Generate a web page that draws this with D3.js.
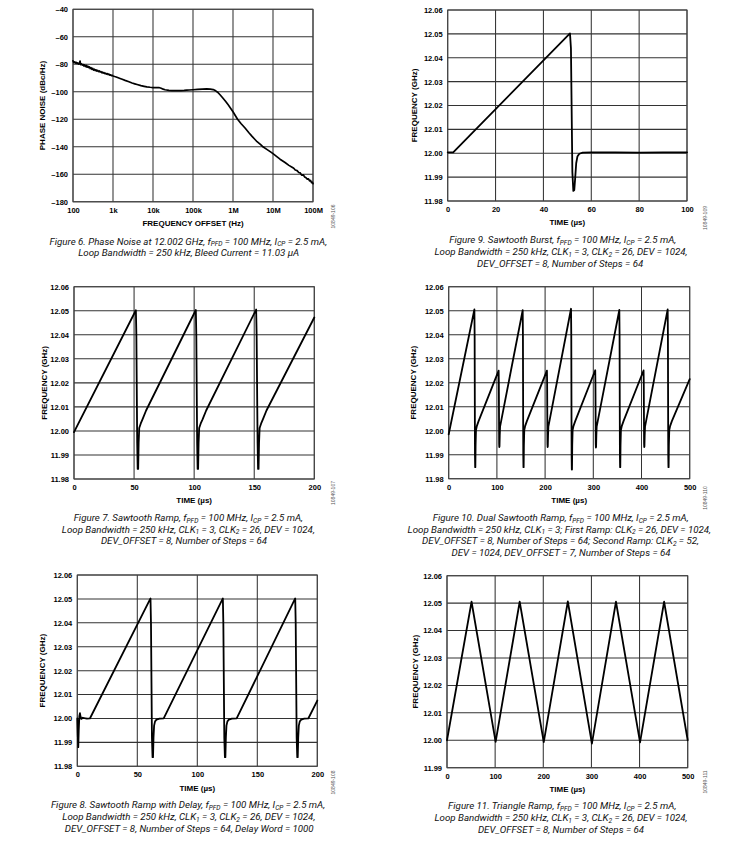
<!DOCTYPE html>
<html><head><meta charset="utf-8">
<script src="https://cdn.jsdelivr.net/npm/d3@7"></script>
<style>
body{margin:0;background:#fff;}
svg{display:block;background:#fff;}
.tick text{font-family:"Liberation Sans",Arial,sans-serif;font-weight:bold;font-size:7.5px;fill:#000;}
.axis-title{font-family:"Liberation Sans",Arial,sans-serif;font-weight:bold;font-size:8px;fill:#000;}
.caption{font-family:Roboto,"Liberation Sans",sans-serif;font-style:italic;font-size:10px;fill:#111;}
.figid{font-family:"Liberation Sans",Arial,sans-serif;font-size:5px;fill:#555;}
</style></head><body>
<svg id="chart" width="732" height="843"></svg>
<script>
// ---------------- DATA ----------------
// Figure 6: phase noise
const phaseNoiseFreqHz = [100,105,110,115,120,126,132,138,145,150,155,162,170,178,186,195,204,214,224,235,246,258,270,283,297,311,326,342,358,375,393,412,432,453,475,498,522,547,573,600,630,660,692,725,760,797,835,875,917,961,1000,1100,1200,1300,1500,1700,2000,2500,3000,3500,4000,5000,6000,7000,8500,10000,12000,14000,16000,18000,20000,25000,30000,40000,50000,60000,70000,80000,100000,130000,170000,220000,270000,320000,370000,420000,480000,550000,650000,750000,870000,1000000,1300000,1600000,2000000,2500000,3000000,3500000,4000000,5000000,5600000,7000000,8500000,10000000,12000000,15000000,20000000,25000000,30000000,33000000,36000000,40000000,44000000,48000000,52000000,57000000,62000000,67000000,72000000,77000000,82000000,87000000,92000000,96000000,100000000];
const phaseNoiseDbc = [-77.5,-78.8,-78.2,-79.1,-78.6,-79.4,-79.0,-79.9,-79.3,-77.6,-80.2,-79.7,-80.6,-80.1,-81.2,-80.4,-81.6,-80.8,-82.1,-81.3,-82.4,-81.9,-83.1,-82.5,-83.6,-83.0,-84.2,-83.6,-84.5,-84.0,-84.9,-84.4,-85.3,-84.8,-85.6,-85.3,-86.1,-85.7,-86.4,-86.1,-86.8,-86.5,-87.1,-86.8,-87.5,-87.2,-87.9,-87.6,-88.2,-88.0,-88.5,-88.9,-89.2,-89.6,-90.3,-90.9,-91.7,-92.7,-93.6,-94.2,-94.7,-95.5,-96.0,-96.4,-96.7,-96.9,-97.0,-96.9,-97.4,-98.1,-98.5,-98.9,-99.1,-99.2,-99.1,-99.0,-98.8,-98.7,-98.5,-98.2,-98.0,-97.9,-98.0,-98.4,-99.3,-100.5,-102.3,-104.3,-106.9,-109.3,-111.9,-114.5,-120.0,-123.2,-126.3,-129.8,-132.4,-134.5,-136.3,-138.6,-140.0,-141.9,-143.5,-145.0,-146.8,-149.0,-151.4,-153.5,-154.9,-155.6,-156.9,-157.3,-158.7,-159.0,-160.6,-160.4,-161.9,-162.5,-163.6,-163.3,-164.8,-164.5,-166.1,-165.7,-166.8];
const freqOffsetTicks = [100,1000,10000,100000,1000000,10000000,100000000];
const freqOffsetLabels = ["100","1k","10k","100k","1M","10M","100M"];
const phaseNoiseTicks = [-40,-60,-80,-100,-120,-140,-160,-180];

// Figure 9: sawtooth burst
const burstTimeUs = [0,2.3,51.1,51.5,52.1,52.5,52.9,53.3,53.7,54.2,55.0,56.4,60,70,80,90,100];
const burstFreqGHz = [12.0004,12.0004,12.0502,12.0440,11.9920,11.9842,11.9846,11.9900,11.9958,11.9986,11.9998,12.0003,12.0004,12.0004,12.0003,12.0004,12.0004];
const burstTimeTicks = [0,20,40,60,80,100];

// Figure 7: sawtooth ramp
const sawTimeUs = [0,51.5,51.9,52.6,53.0,53.4,53.8,54.3,55.5,57.0,60.0,101.4,101.8,102.5,102.9,103.3,103.7,104.2,105.4,107.0,110.0,151.6,152.0,152.8,153.2,153.6,154.0,154.5,155.7,157.2,160.2,200];
const sawFreqGHz = [11.9995,12.0502,12.0400,11.9950,11.9842,11.9842,11.9950,12.0012,12.0030,12.0048,12.0085,12.0503,12.0400,11.9950,11.9842,11.9842,11.9950,12.0012,12.0030,12.0048,12.0085,12.0505,12.0400,11.9950,11.9842,11.9842,11.9950,12.0012,12.0030,12.0048,12.0085,12.0472];
const time200Ticks = [0,50,100,150,200];

// Figure 10: dual sawtooth ramp
const dualTimeUs = [0,53.3,53.8,54.5,54.9,55.3,55.8,56.6,58.5,62.0,103.6,104.0,104.7,105.0,105.4,105.9,106.6,
  153.5,154.0,154.7,155.1,155.5,156.0,156.8,158.7,162.2,203.8,204.2,204.9,205.2,205.6,206.1,206.8,
  253.8,254.3,255.0,255.4,255.8,256.3,257.1,259.0,262.5,304.0,304.4,305.1,305.4,305.8,306.3,307.0,
  354.0,354.5,355.2,355.6,356.0,356.5,357.3,359.2,362.7,404.3,404.7,405.4,405.7,406.1,406.6,407.3,
  454.3,454.8,455.5,455.9,456.3,456.8,457.6,459.5,463.0,500];
const dualFreqGHz = [11.9985,12.0505,12.0400,11.9900,11.9848,11.9848,11.9940,12.0003,12.0020,12.0040,12.0250,12.0200,11.9945,11.9932,11.9935,11.9980,12.0017,
  12.0502,12.0400,11.9900,11.9848,11.9848,11.9940,12.0003,12.0020,12.0040,12.0250,12.0200,11.9945,11.9932,11.9935,11.9980,12.0017,
  12.0508,12.0400,11.9900,11.9838,11.9838,11.9940,12.0003,12.0020,12.0040,12.0252,12.0200,11.9945,11.9930,11.9933,11.9980,12.0017,
  12.0503,12.0400,11.9900,11.9848,11.9848,11.9940,12.0003,12.0020,12.0040,12.0251,12.0200,11.9945,11.9932,11.9935,11.9980,12.0017,
  12.0505,12.0400,11.9900,11.9848,11.9848,11.9940,12.0003,12.0020,12.0040,12.0215];
const time500Ticks = [0,100,200,300,400,500];

// Figure 8: sawtooth ramp with delay
const delayTimeUs = [0,0.4,0.8,1.2,1.7,2.2,2.7,3.3,4.5,6,8,10.5,61.0,61.4,62.2,62.7,63.1,63.5,64.0,64.8,66.0,68.5,72.0,
  121.3,121.7,122.5,123.0,123.4,123.8,124.3,125.1,126.3,128.8,132.8,
  181.6,182.0,182.8,183.3,183.7,184.1,184.6,185.4,186.6,189.1,192.5,200];
const delayFreqGHz = [12.0000,11.9930,11.9880,11.9950,12.0010,12.0022,12.0008,11.9998,12.0003,12.0001,11.9999,12.0000,12.0502,12.0400,11.9920,11.9838,11.9838,11.9920,11.9970,11.9988,11.9995,11.9999,12.0000,
  12.0502,12.0400,11.9920,11.9838,11.9838,11.9920,11.9970,11.9988,11.9995,11.9999,12.0000,
  12.0502,12.0400,11.9920,11.9838,11.9838,11.9920,11.9970,11.9988,11.9995,11.9999,12.0000,12.0075];

// Figure 11: triangle ramp
const triTimeUs = [0,51,101,151,201,251,301,351,401,451,500];
const triFreqGHz = [12.0000,12.0505,11.9994,12.0505,11.9993,12.0506,11.9988,12.0505,11.9992,12.0505,12.0000];

const freqTicks8 = [11.98,11.99,12.00,12.01,12.02,12.03,12.04,12.05,12.06];
const freqTicks7 = [11.99,12.00,12.01,12.02,12.03,12.04,12.05,12.06];

const captions = {
  fig6: ["Figure 6. Phase Noise at 12.002 GHz, f_{PFD} = 100 MHz, I_{CP} = 2.5 mA,",
         "Loop Bandwidth = 250 kHz, Bleed Current = 11.03 µA"],
  fig9: ["Figure 9. Sawtooth Burst, f_{PFD} = 100 MHz, I_{CP} = 2.5 mA,",
         "Loop Bandwidth = 250 kHz, CLK_{1} = 3, CLK_{2} = 26, DEV = 1024,",
         "DEV_OFFSET = 8, Number of Steps = 64"],
  fig7: ["Figure 7. Sawtooth Ramp, f_{PFD} = 100 MHz, I_{CP} = 2.5 mA,",
         "Loop Bandwidth = 250 kHz, CLK_{1} = 3, CLK_{2} = 26, DEV = 1024,",
         "DEV_OFFSET = 8, Number of Steps = 64"],
  fig10: ["Figure 10. Dual Sawtooth Ramp, f_{PFD} = 100 MHz, I_{CP} = 2.5 mA,",
          "Loop Bandwidth = 250 kHz, CLK_{1} = 3; First Ramp: CLK_{2} = 26, DEV = 1024,",
          "DEV_OFFSET = 8, Number of Steps = 64; Second Ramp: CLK_{2} = 52,",
          "DEV = 1024, DEV_OFFSET = 7, Number of Steps = 64"],
  fig8: ["Figure 8. Sawtooth Ramp with Delay, f_{PFD} = 100 MHz, I_{CP} = 2.5 mA,",
         "Loop Bandwidth = 250 kHz, CLK_{1} = 3, CLK_{2} = 26, DEV = 1024,",
         "DEV_OFFSET = 8, Number of Steps = 64, Delay Word = 1000"],
  fig11: ["Figure 11. Triangle Ramp, f_{PFD} = 100 MHz, I_{CP} = 2.5 mA,",
          "Loop Bandwidth = 250 kHz, CLK_{1} = 3, CLK_{2} = 26, DEV = 1024,",
          "DEV_OFFSET = 8, Number of Steps = 64"]
};
const figIds = {fig6:"10849-106", fig9:"10849-109", fig7:"10849-107", fig10:"10849-110", fig8:"10849-108", fig11:"10849-111"};

// ---------------- DRAWING ----------------
const svg = d3.select("#chart");
svg.append("rect").attr("width",732).attr("height",843).attr("fill","#fff");
const gridColor = "#333";
const fmtFreq = d3.format(".2f");
const fmtDb = d => d < 0 ? "\u2013" + Math.abs(d) : String(d);

const panels = [
  {key:"fig6", left:73, right:313, top:9.3, bottom:201.8, xLog:true, xDomain:[100,1e8], yDomain:[-180,-40],
   xTicks:freqOffsetTicks, xFormat:(d,i)=>freqOffsetLabels[i], yTicks:phaseNoiseTicks, yFormat:fmtDb,
   xs:phaseNoiseFreqHz, ys:phaseNoiseDbc, xTitle:"FREQUENCY OFFSET (Hz)", yTitle:"PHASE NOISE (dBc/Hz)",
   yTitleX:45.2, idX:335, idY:216.5, capC:[188.3,188.7], capY:[244.5,256]},
  {key:"fig9", left:447.7, right:687, top:10, bottom:201, xDomain:[0,100], yDomain:[11.98,12.06],
   xTicks:burstTimeTicks, xFormat:d=>d, yTicks:freqTicks8, yFormat:fmtFreq,
   xs:burstTimeUs, ys:burstFreqGHz, xTitle:"TIME (µs)", yTitle:"FREQUENCY (GHz)",
   yTitleX:417.2, idX:707, idY:218, capC:[562.7,561,560.2], capY:[242.8,255.2,266.8]},
  {key:"fig7", left:74, right:314.3, top:286.7, bottom:479, xDomain:[0,200], yDomain:[11.98,12.06],
   xTicks:time200Ticks, xFormat:d=>d, yTicks:freqTicks8, yFormat:fmtFreq,
   xs:sawTimeUs, ys:sawFreqGHz, xTitle:"TIME (µs)", yTitle:"FREQUENCY (GHz)",
   yTitleX:46.6, idX:335, idY:493, capC:[188.3,188.3,184], capY:[520.8,532.5,544.2]},
  {key:"fig10", left:448.7, right:689.7, top:286.7, bottom:478.7, xDomain:[0,500], yDomain:[11.98,12.06],
   xTicks:time500Ticks, xFormat:d=>d, yTicks:freqTicks8, yFormat:fmtFreq,
   xs:dualTimeUs, ys:dualFreqGHz, xTitle:"TIME (µs)", yTitle:"FREQUENCY (GHz)",
   yTitleX:416.1, idX:707, idY:498, capC:[560.7,559.3,560.5,561], capY:[520.8,532.5,544.2,556.2]},
  {key:"fig8", left:77.3, right:317.3, top:575, bottom:766.3, xDomain:[0,200], yDomain:[11.98,12.06],
   xTicks:time200Ticks, xFormat:d=>d, yTicks:freqTicks8, yFormat:fmtFreq,
   xs:delayTimeUs, ys:delayFreqGHz, xTitle:"TIME (µs)", yTitle:"FREQUENCY (GHz)",
   yTitleX:45.1, idX:335, idY:782.5, capC:[188,188.8,189.2], capY:[807.8,819.8,831.8]},
  {key:"fig11", left:447, right:687.7, top:575.7, bottom:767.7, xDomain:[0,500], yDomain:[11.99,12.06],
   xTicks:time500Ticks, xFormat:d=>d, yTicks:freqTicks7, yFormat:fmtFreq,
   xs:triTimeUs, ys:triFreqGHz, xTitle:"TIME (µs)", yTitle:"FREQUENCY (GHz)",
   yTitleX:417.6, idX:707, idY:782, capC:[562.2,561,561], capY:[809.2,820.8,832.5]}
];

const captionNodes = [];

function addCaption(line, cx, y) {
  const t = svg.append("text").attr("class","caption").attr("x",cx).attr("y",y).attr("text-anchor","middle");
  const parts = line.split(/_\{([^}]*)\}/);
  let shifted = false;
  parts.forEach((s,i) => {
    if (i % 2 === 0) {
      if (!s) return;
      const ts = t.append("tspan").text(s);
      if (shifted) { ts.attr("dy", -1.9); shifted = false; }
    } else {
      t.append("tspan").attr("font-size","0.68em").attr("dy", 1.9).text(s);
      shifted = true;
    }
  });
  captionNodes.push(t);
  return t;
}

panels.forEach(p => {
  const g = svg.append("g");
  const x = (p.xLog ? d3.scaleLog() : d3.scaleLinear()).domain(p.xDomain).range([p.left, p.right]);
  const y = d3.scaleLinear().domain(p.yDomain).range([p.bottom, p.top]);

  g.append("g").selectAll("line").data(p.xTicks).join("line")
    .attr("x1", d => x(d)).attr("x2", d => x(d)).attr("y1", p.top).attr("y2", p.bottom)
    .attr("stroke", gridColor).attr("stroke-width", 1.05);
  g.append("g").selectAll("line").data(p.yTicks).join("line")
    .attr("x1", p.left).attr("x2", p.right).attr("y1", d => y(d)).attr("y2", d => y(d))
    .attr("stroke", gridColor).attr("stroke-width", 1.05);
  g.append("rect").attr("x", p.left).attr("y", p.top).attr("width", p.right - p.left).attr("height", p.bottom - p.top)
    .attr("fill","none").attr("stroke", "#444").attr("stroke-width", 1);

  const line = d3.line().x(d => x(d[0])).y(d => y(d[1]));
  g.append("path").datum(d3.zip(p.xs, p.ys)).attr("d", line)
    .attr("fill","none").attr("stroke","#000").attr("stroke-width", p.key === "fig6" ? 1.7 : 1.8)
    .attr("stroke-linejoin","round").attr("stroke-linecap","round");

  g.append("g").attr("transform", `translate(0,${p.bottom})`)
    .call(d3.axisBottom(x).tickValues(p.xTicks).tickFormat(p.xFormat).tickSize(0).tickPadding(5.7))
    .call(a => a.select(".domain").remove());
  g.append("g").attr("transform", `translate(${p.left},0)`)
    .call(d3.axisLeft(y).tickValues(p.yTicks).tickFormat(p.yFormat).tickSize(0).tickPadding(5))
    .call(a => a.select(".domain").remove());

  g.append("text").attr("class","axis-title").attr("text-anchor","middle")
    .attr("x", (p.left + p.right) / 2).attr("y", p.bottom + 24.2).text(p.xTitle);
  g.append("text").attr("class","axis-title").attr("text-anchor","middle")
    .attr("transform", `translate(${p.yTitleX},${(p.top + p.bottom) / 2}) rotate(-90)`).text(p.yTitle);
  g.append("text").attr("class","figid").attr("text-anchor","middle")
    .attr("transform", `translate(${p.idX},${p.idY}) rotate(-90)`).text(figIds[p.key]);

  captions[p.key].forEach((ln, i) => addCaption(ln, p.capC[i], p.capY[i]));
});

// size captions so that the reference line width matches the picture (~253 px)
const ref = captionNodes[3].node().getComputedTextLength();
const fs = Math.max(8, Math.min(12, 10 * 253 / ref));
captionNodes.forEach(t => t.style("font-size", fs + "px"));
</script>
</body></html>
